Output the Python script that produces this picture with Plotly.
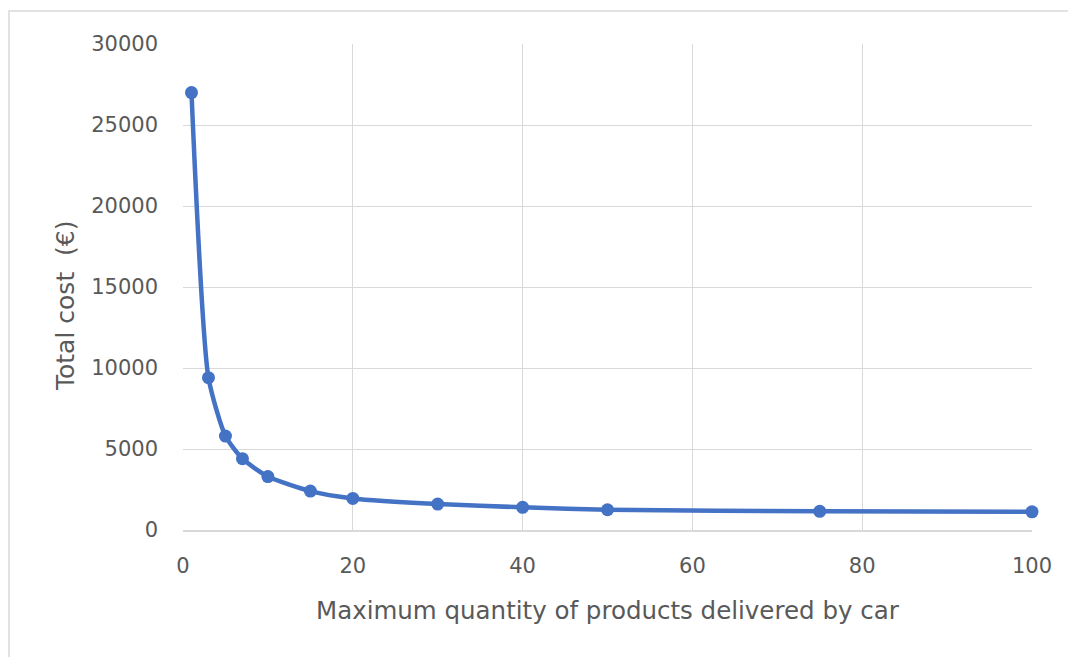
import plotly.graph_objects as go

max_quantity = [1, 3, 5, 7, 10, 15, 20, 30, 40, 50, 75, 100]
total_cost = [27000, 9400, 5800, 4400, 3300, 2400, 1950, 1600, 1400, 1250, 1150, 1120]

x_title = "Maximum quantity of products delivered by car"
y_title = "Total cost  (€)"

FONT = "DejaVu Sans"
TXT = "#595959"
GRID = "#d9d9d9"
BLUE = "#4472C4"

# plot area in page pixels (page has 8px body offset)
PL, PR, PT, PB = 183, 1032, 44, 530
PW, PH = PR - PL, PB - PT


def px(x):
    return (x - PL) / PW


def py(y):
    return (PB - y) / PH


fig = go.Figure()
fig.add_trace(go.Scatter(
    x=max_quantity, y=total_cost, mode="lines+markers",
    line=dict(color=BLUE, width=4.5, shape="spline", smoothing=0.6),
    marker=dict(color=BLUE, size=13),
    showlegend=False, cliponaxis=False,
))

fig.update_layout(
    width=1076, height=657,
    margin=dict(l=PL - 8, r=1076 - (PR - 8), t=PT - 8, b=657 - (PB - 8)),
    paper_bgcolor="white", plot_bgcolor="white",
    font=dict(family=FONT, color=TXT, size=18),
    xaxis=dict(
        range=[0, 100], dtick=20, showgrid=True, gridcolor=GRID, gridwidth=1.3,
        showline=True, linecolor=GRID, linewidth=1.5, zeroline=False,
        ticks="", ticklabelstandoff=16, tickformat="d",
        tickfont=dict(size=21, color=TXT, family=FONT),
    ),
    yaxis=dict(
        range=[0, 30000], dtick=5000, showgrid=True, gridcolor=GRID, gridwidth=1.3,
        showline=False, zeroline=False, tickformat="d",
        ticks="", ticklabelstandoff=24,
        tickfont=dict(size=21, color=TXT, family=FONT),
    ),
    annotations=[
        dict(text=x_title, xref="paper", yref="paper", x=px(608), y=py(610),
             xanchor="center", yanchor="middle", showarrow=False,
             font=dict(size=24.5, color=TXT, family=FONT)),
        dict(text=y_title, xref="paper", yref="paper", x=px(65), y=py(306),
             xanchor="center", yanchor="middle", showarrow=False, textangle=-90,
             font=dict(size=25, color=TXT, family=FONT)),
    ],
    shapes=[dict(
        type="rect", xref="paper", yref="paper",
        x0=px(9), x1=px(1095), y0=py(680), y1=py(11),
        line=dict(color=GRID, width=1.5), fillcolor="rgba(0,0,0,0)", layer="below",
    )],
)

fig.write_html("out.html")
